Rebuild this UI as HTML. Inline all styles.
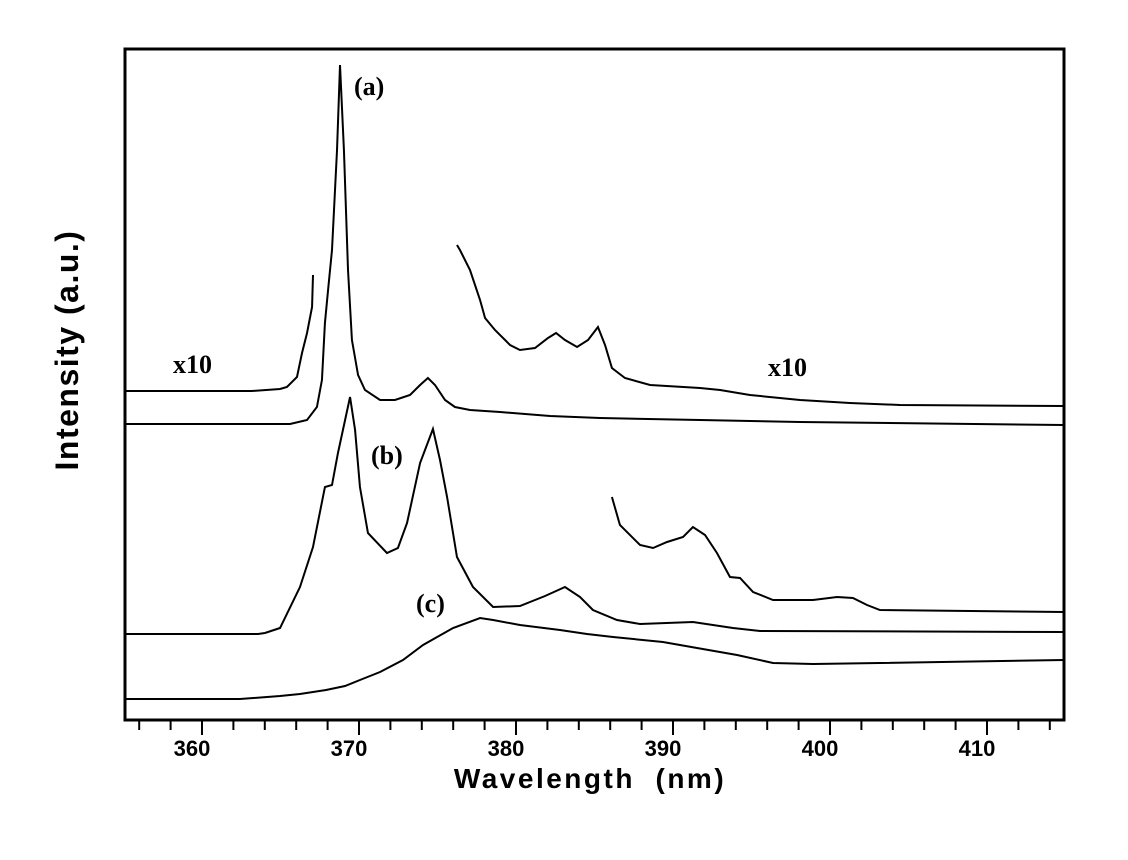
<!DOCTYPE html>
<html><head><meta charset="utf-8"><style>
body{margin:0;background:#fff;}
svg{display:block;}
.tk{font-family:"Liberation Sans",sans-serif;font-weight:bold;font-size:22px;}
.lb{font-family:"Liberation Serif",serif;font-weight:bold;font-size:26px;}
</style></head><body>
<svg id="chart" width="1128" height="860" xmlns="http://www.w3.org/2000/svg">
<rect x="125" y="49" width="939" height="671" fill="none" stroke="#000" stroke-width="3"/>
<g id="ticks"></g>
<g id="series"></g>
<text class="lb" x="354" y="95">(a)</text>
<text class="lb" x="371" y="464">(b)</text>
<text class="lb" x="416" y="612">(c)</text>
<text class="lb" x="173" y="373">x10</text>
<text class="lb" x="768" y="376">x10</text>
<text x="590" y="788" text-anchor="middle" font-family="Liberation Sans, sans-serif" font-weight="bold" font-size="28" letter-spacing="2.5" style="white-space:pre">Wavelength  (nm)</text>
<text x="0" y="0" transform="translate(78,350) rotate(-90)" text-anchor="middle" font-family="Liberation Sans, sans-serif" font-weight="bold" font-size="32" letter-spacing="1.5">Intensity (a.u.)</text>
</svg>
<script>
const tickValues=[360,370,380,390,400,410];
const tickLabels=["360","370","380","390","400","410"];
const aMainX=[355.03,365.61,366.69,367.32,367.64,367.83,368.03,368.28,368.6,368.79,369.04,369.3,369.55,369.94,370.38,371.34,372.29,373.25,373.89,374.39,374.84,375.48,376.11,377.07,378.98,382.17,385.35,391.72,398.09,414.9];
const aMainY=[296,296,300,313,340,397,430,470,570,655,570,450,380,345,330,320,320,325,335,342,335,320,313,310,308,304,302,300,298,295];
const aLeftX=[355.03,363.18,364.97,365.41,366.05,366.37,366.69,367.01,367.07];
const aLeftY=[329,329,331,333,343,367,387,413,445];
const aRightX=[376.24,376.43,377.07,377.71,378.03,378.66,379.62,380.25,381.21,382.04,382.55,383.12,383.89,384.59,385.22,385.67,386.11,386.94,388.54,391.72,393,394.9,398.09,401.27,404.46,414.9];
const aRightY=[475,470,450,420,402,390,375,370,372,382,387,380,373,380,393,375,352,342,335,332,330,325,320,317,315,314];
const bMainX=[355.03,363.57,364.01,364.97,366.24,367.07,367.83,368.28,368.66,369.43,369.75,370.06,370.57,371.78,372.48,373.06,373.89,374.71,375.16,375.61,376.24,377.26,378.54,380.25,381.85,383.12,384.08,384.9,386.43,387.9,391.27,393.82,395.54,414.9];
const bMainY=[86,86,87,92,133,173,233,235,267,323,290,233,187,167,172,197,257,291,260,223,163,133,113,114,124,133,123,110,100,96,98,92,89,88];
const bX10X=[386.11,386.62,387.9,388.73,389.62,390.64,391.27,392.04,392.8,393.63,394.27,395.1,396.37,398.92,400.45,401.46,402.36,403.18,414.9];
const bX10Y=[223,195,175,172,178,183,193,185,167,143,142,128,120,120,123,122,115,110,108];
const cX=[355.03,362.42,364.97,366.24,367.9,369.11,370.06,371.34,372.8,374.08,375.99,377.71,378.54,380.25,382.8,384.52,386.18,389.36,391.53,394.08,396.37,398.92,403.18,414.9];
const cY=[21,21,24,26,30,34,40,48,60,75,92,102,100,95,90,86,83,78,72,65,57,56,57,60];

const NS="http://www.w3.org/2000/svg";
function xs(nm){return 202+(nm-360)*15.7;}
function ys(v){return 720-v;}
const tg=document.getElementById('ticks');
for(let nm=356;nm<=414;nm+=2){
  const major=tickValues.includes(nm);
  const l=document.createElementNS(NS,'line');
  
  
  l.setAttribute('x1',xs(nm));l.setAttribute('x2',xs(nm));
  l.setAttribute('y1',720);l.setAttribute('y2',major?735:730);
  l.setAttribute('stroke','#000');l.setAttribute('stroke-width','2');
  tg.appendChild(l);
}
tickValues.forEach((v,i)=>{
  const t=document.createElementNS(NS,'text');
  
  
  t.setAttribute('class','tk');
  t.setAttribute('x',xs(v)-10);t.setAttribute('y',756);
  t.setAttribute('text-anchor','middle');
  t.textContent=tickLabels[i];
  tg.appendChild(t);
});
const sg=document.getElementById('series');
function draw(X,Y,name){
  const p=document.createElementNS(NS,'polyline');
  
  
  p.setAttribute('points',X.map((x,i)=>xs(x)+','+ys(Y[i])).join(' '));
  p.setAttribute('fill','none');p.setAttribute('stroke','#000');p.setAttribute('stroke-width','2');
  sg.appendChild(p);
}
draw(aMainX,aMainY,'series-a');
draw(aLeftX,aLeftY,'series-a-x10-left');
draw(aRightX,aRightY,'series-a-x10-right');
draw(bMainX,bMainY,'series-b');
draw(bX10X,bX10Y,'series-b-x10');
draw(cX,cY,'series-c');
</script>
</body></html>
